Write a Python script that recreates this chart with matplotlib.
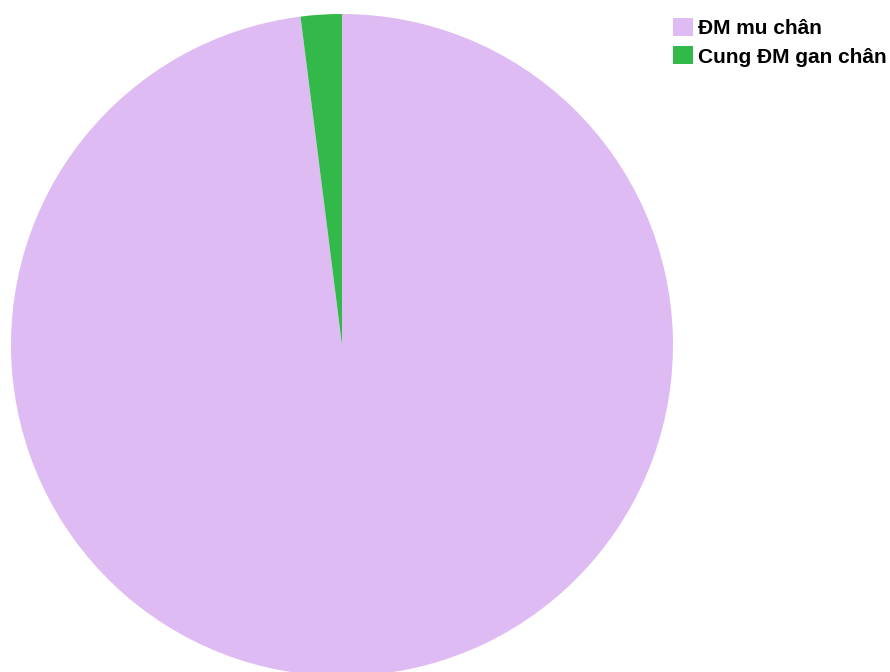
import matplotlib
matplotlib.use('Agg')
import matplotlib.pyplot as plt

# Du lieu bieu do tron
labels = ['ĐM mu chân', 'Cung ĐM gan chân']
values = [98, 2]
colors = ['#dfbbf3', '#33b84a']

plt.rcParams['font.family'] = ['Liberation Sans', 'DejaVu Sans']

fig = plt.figure(figsize=(8.9, 6.72), dpi=100)
ax = fig.add_axes([0, 0, 1, 1])

wedges, _ = ax.pie(values, colors=colors, startangle=90, counterclock=False,
                   radius=1.0, wedgeprops=dict(linewidth=0))

# tam hinh tron tai (342, 345) px, ban kinh 331 px
r_px = 331.0
cx, cy = 342.0, 672 - 345.0
ax.set_xlim(-cx / r_px, (890 - cx) / r_px)
ax.set_ylim(-cy / r_px, (672 - cy) / r_px)
ax.set_aspect('auto')
ax.axis('off')

ax.legend(wedges, labels, loc='upper left', bbox_to_anchor=(673 / 890, 1 - 18 / 672),
          bbox_transform=fig.transFigure, frameon=False, borderpad=0, borderaxespad=0,
          handlelength=0.95, handleheight=0.95, handletextpad=0.25, labelspacing=0.4,
          prop=dict(size=15, weight='bold'))

fig.savefig('out.png', dpi=100)
